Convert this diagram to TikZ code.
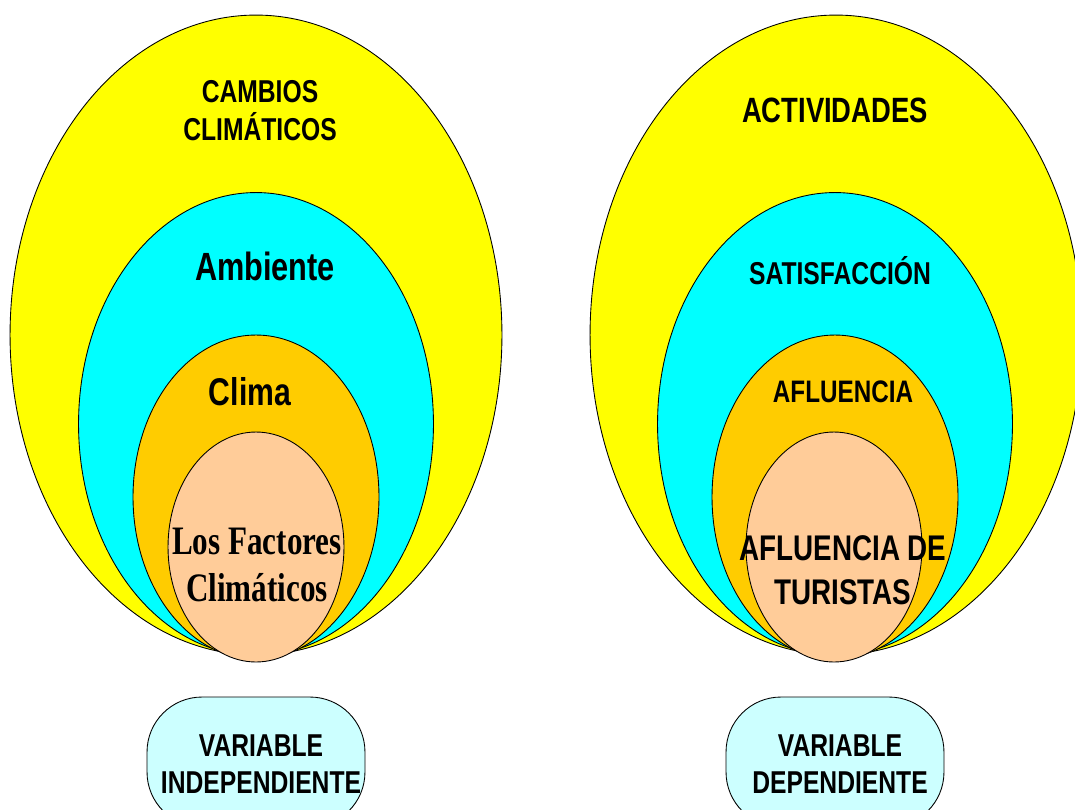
\documentclass[tikz,border=0pt]{standalone}
\usepackage{fontspec}
\usepackage{tikz}
\newfontfamily\narrowsans[FakeStretch=0.78]{Liberation Sans}
\newfontfamily\narrowserif[FakeStretch=0.77]{Liberation Serif}
\definecolor{amarillo}{HTML}{FFFF00}
\definecolor{celeste}{HTML}{00FFFF}
\definecolor{naranja}{HTML}{FFCC00}
\definecolor{durazno}{HTML}{FFCC99}
\definecolor{claro}{HTML}{CCFFFF}
\tikzset{capa/.style={draw=black, line width=0.5pt},
  etiq/.style={align=center, inner sep=0pt, font=\narrowsans\bfseries},
  varbox/.style={draw=black, line width=0.5pt, fill=claro, rounded corners=1.1cm,
    minimum width=4.36cm, minimum height=2.6cm}}

\begin{document}
\begin{tikzpicture}[x=0.02cm,y=-0.02cm]
		\clip (0,0) rectangle (1075,809);
		\useasboundingbox (0,0) rectangle (1075,809);
		% izquierda
		\draw[capa, fill=amarillo] (256,335) ellipse [x radius=4.92cm, y radius=6.4cm];
		\draw[capa, fill=celeste] (256,424) ellipse [x radius=3.55cm, y radius=4.63cm];
		\draw[capa, fill=naranja] (256,497) ellipse [x radius=2.46cm, y radius=3.24cm];
		\draw[capa, fill=durazno] (256,547) ellipse [x radius=1.76cm, y radius=2.3cm];
		% derecha
		\draw[capa, fill=amarillo] (836,335) ellipse [x radius=4.92cm, y radius=6.4cm];
		\draw[capa, fill=celeste] (835,424) ellipse [x radius=3.55cm, y radius=4.63cm];
		\draw[capa, fill=naranja] (835,497) ellipse [x radius=2.46cm, y radius=3.24cm];
		\draw[capa, fill=durazno] (834,547) ellipse [x radius=1.76cm, y radius=2.3cm];
		\node[etiq, font=\narrowsans\bfseries\fontsize{18}{21.6}\selectfont] (cambios) at (260,111) {CAMBIOS\\CLIMÁTICOS};
		\node[etiq, font=\narrowsans\bfseries\fontsize{22.4}{26}\selectfont] (ambiente) at (265,266) {Ambiente};
		\node[etiq, font=\narrowsans\bfseries\fontsize{22}{26}\selectfont] (clima) at (250,392) {Clima};
		\node[etiq, font=\narrowserif\bfseries\fontsize{23}{27}\selectfont] (factores) at (257,565) {Los Factores\\Climáticos};
		\node[etiq, font=\narrowsans\bfseries\fontsize{20}{24}\selectfont] (actividades) at (835,110) {ACTIVIDADES};
		\node[etiq, font=\narrowsans\bfseries\fontsize{18}{20}\selectfont] (satisfaccion) at (840,271) {SATISFACCIÓN};
		\node[etiq, font=\narrowsans\bfseries\fontsize{17.7}{21}\selectfont] (afluencia) at (843,392) {AFLUENCIA};
		\node[etiq, font=\narrowsans\bfseries\fontsize{20.3}{25}\selectfont] (turistas) at (843,570) {AFLUENCIA DE\\TURISTAS};
		% cajas de variables
		\node[varbox] (indep) at (256,762) {};
		\node[varbox] (dep) at (835,762) {};
		\node[etiq, font=\narrowsans\bfseries\fontsize{18}{21}\selectfont] (indeptxt) at (261,764) {VARIABLE\\INDEPENDIENTE};
		\node[etiq, font=\narrowsans\bfseries\fontsize{18}{21}\selectfont] (deptxt) at (840,764) {VARIABLE\\DEPENDIENTE};
		\end{tikzpicture}
\end{document}
